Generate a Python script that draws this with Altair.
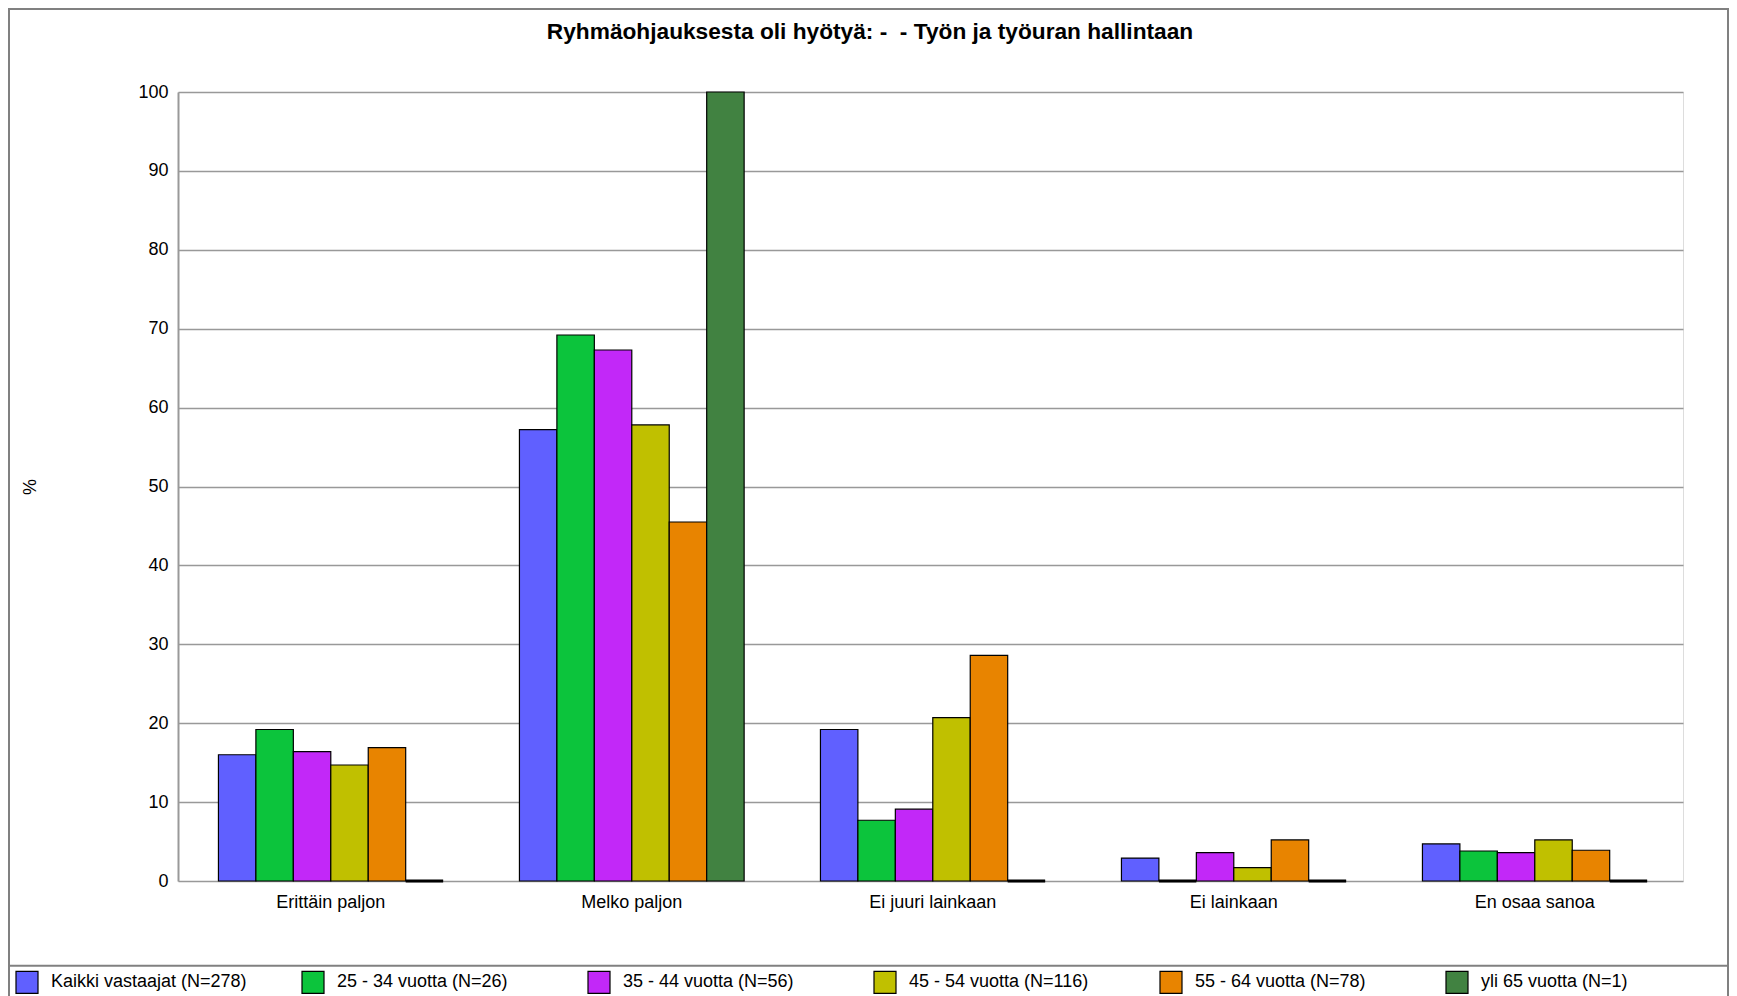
import altair as alt
import pandas as pd

categories = ["Erittäin paljon", "Melko paljon", "Ei juuri lainkaan", "Ei lainkaan", "En osaa sanoa"]
series = [
    "Kaikki vastaajat (N=278)",
    "25 - 34 vuotta (N=26)",
    "35 - 44 vuotta (N=56)",
    "45 - 54 vuotta (N=116)",
    "55 - 64 vuotta (N=78)",
    "yli 65 vuotta (N=1)",
]
colors = ["#6060FF", "#0CC43C", "#C228F8", "#C0C000", "#E88400", "#418241"]

kaikki = [16.0, 57.2, 19.2, 2.9, 4.7]
v25_34 = [19.2, 69.2, 7.7, 0.0, 3.8]
v35_44 = [16.4, 67.3, 9.1, 3.6, 3.6]
v45_54 = [14.7, 57.8, 20.7, 1.7, 5.2]
v55_64 = [16.9, 45.5, 28.6, 5.2, 3.9]
yli65 = [0.0, 100.0, 0.0, 0.0, 0.0]
y_ticks = [0, 10, 20, 30, 40, 50, 60, 70, 80, 90, 100]

title_text = "Ryhmäohjauksesta oli hyötyä: -\u00a0 - Työn ja työuran hallintaan"

rows = []
for s, vals in zip(series, [kaikki, v25_34, v35_44, v45_54, v55_64, yli65]):
    for c, v in zip(categories, vals):
        rows.append({"category": c, "series": s, "value": v})
df = pd.DataFrame(rows)

FONT = "Liberation Sans"
W, H = 1505, 789

x_enc = alt.X(
    "category:N",
    sort=categories,
    scale=alt.Scale(paddingInner=0.2535, paddingOuter=0.12675, align=0.53),
    axis=alt.Axis(
        title=None, labelAngle=0, labelFontSize=18, labelFont=FONT, labelColor="black",
        labelPadding=12, ticks=False, domain=False,
    ),
)
xo_enc = alt.XOffset("series:N", sort=series, scale=alt.Scale(paddingInner=0, paddingOuter=0))
y_enc = alt.Y(
    "value:Q",
    scale=alt.Scale(domain=[0, 100], nice=False),
    axis=alt.Axis(
        values=y_ticks, title="%", titleFont=FONT, titleFontSize=18, titleFontWeight="normal",
        titleColor="black", titleX=-148, titleY=H / 2, titleAlign="center", titleBaseline="middle",
        labelFontSize=18, labelFont=FONT, labelColor="black", labelPadding=10, ticks=False,
        domainColor="#999999", domainWidth=2, gridColor="#999999", gridWidth=1.5,
    ),
)

bars = alt.Chart(df).mark_bar(stroke="black", strokeWidth=1.2).encode(
    x=x_enc,
    xOffset=xo_enc,
    y=y_enc,
    color=alt.Color(
        "series:N",
        sort=series,
        scale=alt.Scale(domain=series, range=colors),
        legend=alt.Legend(
            orient="none", legendX=-163, legendY=878, direction="horizontal", columns=6,
            gridAlign="all", columnPadding=52, title=None, symbolType="square", symbolSize=484,
            symbolStrokeColor="black", symbolStrokeWidth=1.2, symbolOpacity=1,
            labelFontSize=18, labelFont=FONT, labelColor="black", labelOffset=12,
            labelLimit=400, padding=0,
        ),
    ),
)

zeros = alt.Chart(df).transform_filter("datum.value == 0").mark_bar(
    stroke="black", strokeWidth=3, fill="black"
).encode(x=x_enc, xOffset=xo_enc, y=y_enc)

frame_df = pd.DataFrame({"a": [0]})
frame = alt.Chart(frame_df).mark_rect(fill="transparent", stroke="#808080", strokeWidth=2).encode(
    x=alt.value(-169), x2=alt.value(1550), y=alt.value(-83), y2=alt.value(940)
)
sep = alt.Chart(frame_df).mark_rule(color="#808080", strokeWidth=2).encode(
    x=alt.value(-169), x2=alt.value(1550), y=alt.value(873.7)
)
title = alt.Chart(frame_df).mark_text(
    text=title_text, font=FONT, fontSize=22.7, fontWeight="bold", color="black",
    align="center", baseline="middle",
).encode(x=alt.value(692), y=alt.value(-60))

chart = alt.layer(frame, sep, title, bars, zeros).properties(
    width=W,
    height=H,
    autosize=alt.AutoSizeParams(type="none"),
    padding={"left": 170, "top": 84, "right": 46, "bottom": 117},
).configure_view(stroke="#999999", strokeWidth=2).configure(background="white")

chart.save("out.html", embed_options={"renderer": "svg", "actions": False})
